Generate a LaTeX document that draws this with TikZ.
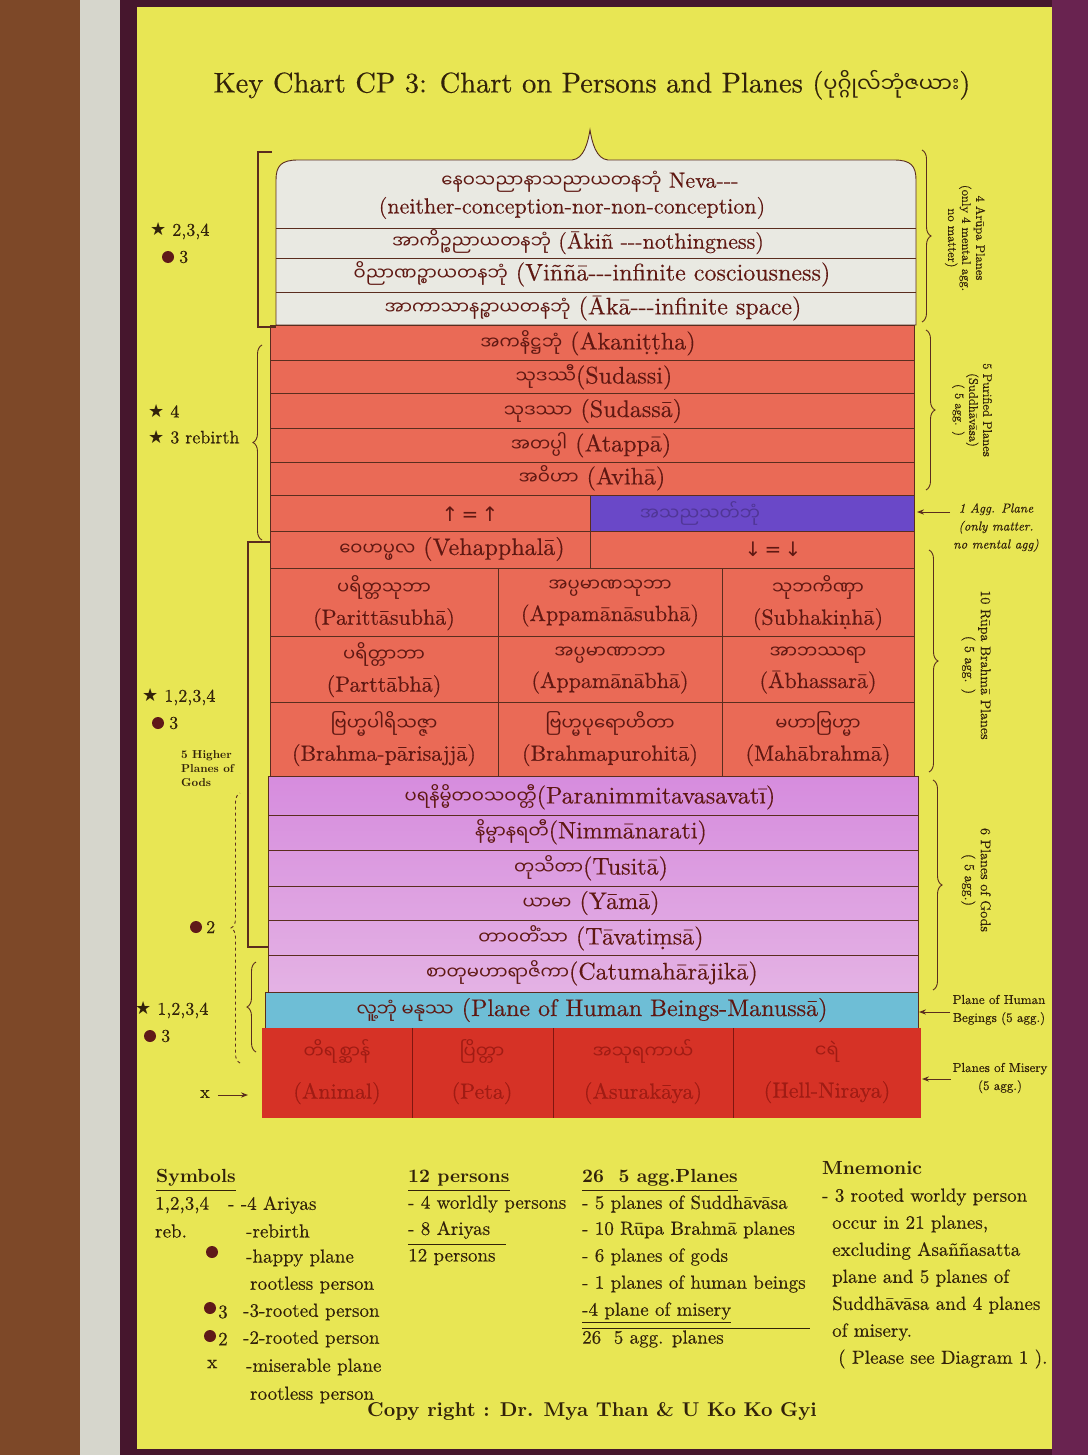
\documentclass[tikz,border=0pt]{standalone}
\usepackage{fontspec}
\setmainfont{lmroman10-regular.otf}[BoldFont=lmroman10-bold.otf, ItalicFont=lmroman10-italic.otf, BoldItalicFont=lmroman10-bolditalic.otf, UprightFeatures={FakeBold=0.35}, ItalicFeatures={FakeBold=0.35}]
\usetikzlibrary{decorations.pathreplacing,arrows.meta}
\newfontfamily\myafont[Script=Myanmar]{Noto Sans Myanmar UI}
\newfontfamily\dvs{DejaVu Sans}
\newcommand\bur[1]{{\myafont\fontsize{18}{19}\selectfont #1}}
\newcommand\bigbur[1]{{\myafont\fontsize{21}{23}\selectfont #1}}
\newcommand\starc{{\dvs\fontsize{18}{18}\selectfont ★}}
\newcommand\tdash{-{}-{}-}
\definecolor{wood}{RGB}{125,72,40}
\definecolor{strip}{RGB}{214,214,204}
\definecolor{plum}{RGB}{70,22,45}
\definecolor{plumr}{RGB}{105,35,80}
\definecolor{poster}{RGB}{232,230,84}
\definecolor{arupa}{RGB}{233,233,226}
\definecolor{salmon}{RGB}{234,106,86}
\definecolor{violetbar}{RGB}{106,72,200}
\definecolor{pinktop}{RGB}{214,140,222}
\definecolor{pinkbot}{RGB}{228,178,228}
\definecolor{human}{RGB}{110,190,214}
\definecolor{misery}{RGB}{214,50,38}
\definecolor{ink}{RGB}{50,34,10}
\definecolor{rink}{RGB}{95,24,18}
\definecolor{lnc}{RGB}{90,45,30}
\definecolor{dotc}{RGB}{95,25,25}
\definecolor{mink}{RGB}{160,28,20}
\begin{document}
\begin{tikzpicture}[x=1pt,y=-1pt,
  sep/.style={draw=lnc, line width=0.9pt},
  ct/.style={text=rink, inner sep=0pt, font=\fontsize{24}{26}\selectfont},
  cts/.style={text=rink, inner sep=0pt, font=\fontsize{22}{24}\selectfont},
  cell/.style={text=rink, inner sep=0pt, align=center, font=\fontsize{22}{30}\selectfont},
  mis/.style={text=mink, inner sep=0pt, align=center, font=\fontsize{22}{40}\selectfont},
  lg/.style={text=ink, inner sep=0pt, anchor=west, font=\fontsize{19}{22}\selectfont},
  lgb/.style={text=ink, inner sep=0pt, anchor=west, font=\fontsize{19}{22}\selectfont\bfseries},
  side/.style={text=ink, inner sep=0pt, anchor=west, font=\fontsize{18}{20}\selectfont},
  rlab/.style={text=ink, inner sep=0pt, align=center, rotate=-90, font=\fontsize{12.5}{14}\selectfont},
  alab/.style={text=ink, inner sep=0pt, align=center, font=\fontsize{13}{18}\selectfont},
  brc/.style={draw=lnc, line width=0.9pt, decorate, decoration={brace, amplitude=9pt}},
  bkt/.style={draw=lnc, line width=1.1pt},
  dotn/.style={circle, fill=dotc, inner sep=0pt, minimum size=12pt},
  arr/.style={draw=lnc, line width=1pt, -{Stealth[length=7pt]}}
]
\useasboundingbox (0,0) rectangle (1088,1455);
% ---- photo surroundings
\fill[wood] (0,0) rectangle (80,1455);
\fill[strip] (80,0) rectangle (120,1455);
\fill[plum] (120,0) rectangle (1088,1455);
\fill[plumr] (1052,0) rectangle (1088,1455);
\fill[poster] (137,7) rectangle (1052,1449);

% ---- title
\node[text=ink, inner sep=0pt, font=\fontsize{28.5}{31}\selectfont] (title) at (592,85)
  {Key Chart CP 3: Chart on Persons and Planes (\bigbur{ပုဂ္ဂိုလ်ဘုံဇယား})};

% ---- Arupa block (brace-shaped top)
\filldraw[fill=arupa, sep] (276,325) -- (276,180) .. controls (276,166) and (281,160) .. (298,160)
  -- (572,160) .. controls (584,159) and (588,142) .. (590,130)
  .. controls (592,142) and (596,159) .. (608,160) -- (894,160)
  .. controls (911,160) and (916,166) .. (916,180) -- (916,325) -- cycle;
\draw[sep] (276,228) -- (916,228);
\draw[sep] (276,258) -- (916,258);
\draw[sep] (276,292) -- (916,292);
\node[cts] (neva1) at (590,182) {\bur{နေဝသညာနာသညာယတနဘုံ} Neva\tdash};
\node[cts] (neva2) at (572,208) {(neither-conception-nor-non-conception)};
\node[cts] (akin) at (578,242) {\bur{အာကိဉ္စညာယတနဘုံ} (Ākiñ \tdash nothingness)};
\node[ct] (vinna) at (592,274) {\bur{ဝိညာဏဉ္စာယတနဘုံ} (Viññā\tdash infinite cosciousness)};
\node[ct] (aka) at (593,308) {\bur{အာကာသာနဉ္စာယတနဘုံ} (Ākā\tdash infinite space)};

% ---- red block (Suddhavasa + Rupa)
\fill[salmon] (270,325) rectangle (914,776);
\fill[violetbar] (590,495) rectangle (914,531);
\foreach \yy in {325,360,393,428,462,495,531,568,636,702,776}{\draw[sep] (270,\yy) -- (914,\yy);}
\draw[sep] (270,325) -- (270,776);
\draw[sep] (914,325) -- (914,776);
\draw[sep] (590,495) -- (590,568);
\draw[sep] (498,568) -- (498,776);
\draw[sep] (722,568) -- (722,776);
\node[ct] (akan) at (588,343) {\bur{အကနိဋ္ဌဘုံ} (Akaniṭṭha)};
\node[ct] (sudassi) at (594,377) {\bur{သုဒဿီ}(Sudassi)};
\node[ct] (sudassa) at (593,411) {\bur{သုဒဿာ} (Sudassā)};
\node[ct] (atappa) at (591,445) {\bur{အတပ္ပါ} (Atappā)};
\node[ct] (aviha) at (592,478) {\bur{အဝိဟာ} (Avihā)};
\node[text=violetbar!75!black, inner sep=0pt] (asanna) at (700,513) {\bur{အသညသတ်ဘုံ}};
\node[text=rink, inner sep=0pt, font=\dvs\fontsize{20}{22}\selectfont] (upar) at (470,514) {↑\,=\,↑};
\node[text=rink, inner sep=0pt, font=\dvs\fontsize{20}{22}\selectfont] (dnar) at (773,549) {↓\,=\,↓};
\node[ct] (veha) at (452,549) {\bur{ဝေဟပ္ဖလ} (Vehapphalā)};
\node[cell] (r11) at (384,603) {\bur{ပရိတ္တသုဘာ}\\(Parittāsubhā)};
\node[cell] (r12) at (610,603) {\bur{အပ္ပမာဏသုဘာ}\\(Appamānāsubhā)};
\node[cell] (r13) at (818,603) {\bur{သုဘကိဏှာ}\\(Subhakiṇhā)};
\node[cell] (r21) at (384,670) {\bur{ပရိတ္တာဘာ}\\(Parttābhā)};
\node[cell] (r22) at (610,670) {\bur{အပ္ပမာဏာဘာ}\\(Appamānābhā)};
\node[cell] (r23) at (818,670) {\bur{အာဘဿရာ}\\(Ābhassarā)};
\node[cell] (r31) at (384,739) {\bur{ဗြဟ္မပါရိသဇ္ဇာ}\\(Brahma-pārisajjā)};
\node[cell] (r32) at (610,739) {\bur{ဗြဟ္မပုရောဟိတာ}\\(Brahmapurohitā)};
\node[cell] (r33) at (818,739) {\bur{မဟာဗြဟ္မာ}\\(Mahābrahmā)};

% ---- gods block
\shade[top color=pinktop, bottom color=pinkbot] (268,776) rectangle (918,992);
\foreach \yy in {776,815,850,886,920,955,992}{\draw[sep] (268,\yy) -- (918,\yy);}
\draw[sep] (268,776) -- (268,992);
\draw[sep] (918,776) -- (918,992);
\node[ct] (para) at (590,797) {\bur{ပရနိမ္မိတဝသဝတ္တီ}(Paranimmitavasavatī)};
\node[ct] (nimm) at (591,832) {\bur{နိမ္မာနရတီ}(Nimmānarati)};
\node[ct] (tusi) at (591,868) {\bur{တုသိတာ}(Tusitā)};
\node[ct] (yama) at (591,903) {\bur{ယာမာ} (Yāmā)};
\node[ct] (tava) at (591,938) {\bur{တာဝတိံသာ} (Tāvatiṃsā)};
\node[ct] (catu) at (592,973) {\bur{စာတုမဟာရာဇိကာ}(Catumahārājikā)};

% ---- humans
\filldraw[fill=human, sep] (265,992) rectangle (918,1028);
\node[ct] (manu) at (592,1010) {\bur{လူ့ဘုံ မနုဿ} (Plane of Human Beings-Manussā)};

% ---- misery
\fill[misery] (262,1028) rectangle (921,1118);
\draw[draw=mink!80!black, line width=1pt] (412,1028) -- (412,1118);
\draw[draw=mink!80!black, line width=1pt] (553,1028) -- (553,1118);
\draw[draw=mink!80!black, line width=1pt] (733,1028) -- (733,1118);
\node[mis] (m1) at (337,1072) {\bur{တိရစ္ဆာန်}\\(Animal)};
\node[mis] (m2) at (482,1072) {\bur{ပြိတ္တာ}\\(Peta)};
\node[mis] (m3) at (643,1072) {\bur{အသုရကာယ်}\\(Asurakāya)};
\node[mis] (m4) at (827,1072) {\bur{ငရဲ}\\(Hell-Niraya)};

% ---- left brackets and braces
\coordinate (b1t) at (258,152); \coordinate (b1b) at (258,327);
\draw[bkt] (272,152) -- (b1t) -- (b1b) -- (276,327);
\coordinate (b2t) at (248,542); \coordinate (b2b) at (248,947);
\draw[bkt] (270,542) -- (b2t) -- (b2b) -- (268,947);
\coordinate (pl1) at (262,540); \coordinate (pl2) at (262,345);
\draw[brc] (pl1) -- (pl2);
\coordinate (dl1) at (240,1063); \coordinate (dl2) at (240,793);
\draw[brc, dashed] (dl1) -- (dl2);
\coordinate (sl1) at (256,1052); \coordinate (sl2) at (256,962);
\draw[brc] (sl1) -- (sl2);

% ---- left labels
\node[side] (s1) at (150,231) {\starc\ 2,3,4};
\node[dotn] (d1) at (168,257) {}; \node[side] (d1t) at (179,257) {3};
\node[side] (s2) at (148,411) {\starc\ 4};
\node[side] (s3) at (148,437) {\starc\ 3 rebirth};
\node[side] (s4) at (142,697) {\starc\ 1,2,3,4};
\node[dotn] (d2) at (158,723) {}; \node[side] (d2t) at (169,723) {3};
\node[text=ink, inner sep=0pt, anchor=north west, align=left, font=\fontsize{11.5}{14}\selectfont\bfseries] (hi) at (181,750) {5 Higher\\Planes of\\Gods};
\node[dotn] (d3) at (196,927) {}; \node[side] (d3t) at (206,927) {2};
\node[side] (s5) at (135,1010) {\starc\ 1,2,3,4};
\node[dotn] (d4) at (150,1036) {}; \node[side] (d4t) at (161,1036) {3};
\node[side] (xx) at (200,1094) {x};
\coordinate (xend) at (248,1095);
\draw[arr] (xx.east) ++(8,1) -- (xend);

% ---- right braces and labels
\coordinate (ra1) at (922,150); \coordinate (ra2) at (922,322);
\draw[brc] (ra1) -- (ra2);
\node[rlab] (arl) at (965,238) {4 Arūpa Planes\\(only 4 mental agg.\\no matter)};
\coordinate (rp1) at (926,330); \coordinate (rp2) at (926,490);
\draw[brc] (rp1) -- (rp2);
\node[rlab] (prl) at (972,410) {5 Purified Planes\\(Suddhāvāsa)\\( 5 agg. )};
\node[alab, font=\fontsize{13}{18}\selectfont\itshape, anchor=north] (onel) at (996,503) {1 Agg. Plane\\(only matter.\\no mental agg)};
\coordinate (onet) at (917,512);
\draw[arr] (onel.west |- onet) ++(-3,0) -- (onet);
\coordinate (rr1) at (929,550); \coordinate (rr2) at (929,772);
\draw[brc] (rr1) -- (rr2);
\node[rlab, font=\fontsize{14}{16}\selectfont] (rrl) at (976,665) {10 Rūpa Brahmā Planes\\( 5 agg. )};
\coordinate (rg1) at (933,780); \coordinate (rg2) at (933,990);
\draw[brc] (rg1) -- (rg2);
\node[rlab, font=\fontsize{14}{16}\selectfont] (rgl) at (976,880) {6 Planes of Gods\\( 5 agg.)};
\node[alab] (huml) at (999,1010) {Plane of Human\\Begings (5 agg.)};
\coordinate (humt) at (919,1012);
\draw[arr] (huml.west |- humt) ++(-2,0) -- (humt);
\node[alab] (misl) at (1000,1078) {Planes of Misery\\(5 agg.)};
\coordinate (mist) at (922,1079);
\draw[arr] (misl.west |- mist) ++(-2,0) -- (mist);

% ---- legend: symbols
\node[lgb] (sym) at (156,1178) {Symbols};
\draw[draw=ink, line width=1pt] (156,1190) -- (sym.east |- 0,1190);
\node[lg] (l1a) at (155,1205) {1,2,3,4};
\node[lg] (l1b) at (228,1205) {- -4 Ariyas};
\node[lg] (l2a) at (155,1231) {reb.};
\node[lg] (l2b) at (246,1231) {-rebirth};
\node[dotn] (ld1) at (212,1252) {};
\node[lg] (l3a) at (246,1258) {-happy plane};
\node[lg] (l3b) at (250,1285) {rootless person};
\node[dotn] (ld2) at (210,1308) {}; \node[lg] (ld2t) at (218,1312) {3};
\node[lg] (l4) at (243,1312) {-3-rooted person};
\node[dotn] (ld3) at (210,1336) {}; \node[lg] (ld3t) at (218,1339) {2};
\node[lg] (l5) at (243,1339) {-2-rooted person};
\node[lg] (lx) at (207,1364) {x};
\node[lg] (l6a) at (246,1367) {-miserable plane};
\node[lg] (l6b) at (250,1395) {rootless person};

% ---- legend: persons
\node[lgb] (per) at (408,1178) {12 persons};
\draw[draw=ink, line width=1pt] (408,1190) -- (per.east |- 0,1190);
\node[lg] (p1) at (408,1204) {- 4 worldly persons};
\node[lg] (p2) at (408,1230) {- 8 Ariyas};
\draw[draw=ink, line width=1pt] (408,1244) -- (506,1244);
\node[lg] (p3) at (408,1257) {12 persons};

% ---- legend: planes
\node[lgb] (pla) at (582,1178) {26~~5 agg.Planes};
\draw[draw=ink, line width=1pt] (582,1190) -- (pla.east |- 0,1190);
\node[lg] (q1) at (582,1204) {- 5 planes of Suddhāvāsa};
\node[lg] (q2) at (582,1230) {- 10 Rūpa Brahmā planes};
\node[lg] (q3) at (582,1257) {- 6 planes of gods};
\node[lg] (q4) at (582,1284) {- 1 planes of human beings};
\node[lg] (q5) at (582,1311) {-4 plane of misery};
\draw[draw=ink, line width=1pt] (582,1322) -- (q5.east |- 0,1322);
\draw[draw=ink, line width=1pt] (582,1328) -- (810,1328);
\node[lg] (q6) at (582,1339) {26~~5 agg. planes};

% ---- mnemonic
\node[lgb] (mn) at (822,1168) {Mnemonic};
\node[lg] (n1) at (822,1197) {- 3 rooted worldy person};
\node[lg] (n2) at (832,1224) {occur in 21 planes,};
\node[lg] (n3) at (832,1251) {excluding Asaññasatta};
\node[lg] (n4) at (832,1278) {plane and 5 planes of};
\node[lg] (n5) at (832,1305) {Suddhāvāsa and 4 planes};
\node[lg] (n6) at (832,1332) {of misery.};
\node[lg] (n7) at (838,1359) {( Please see Diagram 1 ).};

% ---- copyright
\node[text=ink, inner sep=0pt, font=\fontsize{20}{22}\selectfont\bfseries] (copy) at (592,1411) {Copy right : Dr. Mya Than \& U Ko Ko Gyi};
\end{tikzpicture}
\end{document}
